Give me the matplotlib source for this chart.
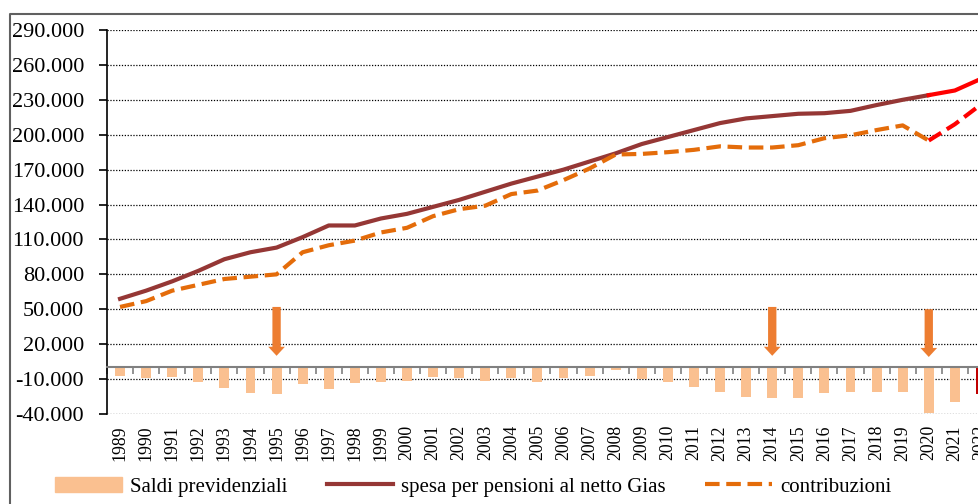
import matplotlib
matplotlib.use("Agg")
import matplotlib.pyplot as plt
from matplotlib.lines import Line2D
from matplotlib.patches import Patch
from matplotlib.ticker import FixedLocator, FuncFormatter
import numpy as np

plt.rcParams['font.family'] = ['Liberation Serif', 'DejaVu Serif']

# values in millions of euro
years = list(range(1989, 2023))
spesa = [59000, 66000, 74000, 83000, 93000, 99000, 103000, 112000, 122000, 122000,
         128000, 132000, 138000, 144000, 151000, 158000, 164000, 170000, 177000, 184000,
         192000, 198000, 204000, 210000, 214000, 216000, 218000, 218500, 220500, 225500,
         230000, 234000, 238000, 248000]
contribuzioni = [52000, 57000, 66000, 71000, 76000, 78000, 80000, 99000, 105000, 109000,
                 116000, 120000, 130000, 136000, 139000, 149000, 152000, 161000, 171000, 183000,
                 183500, 185000, 187000, 190000, 189000, 189000, 191000, 197000, 199500, 204000,
                 208000, 195000, 209000, 226000]
saldi = [-7200, -9400, -8600, -12900, -18000, -21700, -23100, -14600, -18900, -13400,
         -12300, -11700, -8300, -9400, -11700, -9200, -12300, -9200, -7200, -2300,
         -9700, -12900, -16600, -21200, -25400, -26600, -26600, -22300, -21200, -21200,
         -21200, -39400, -29500, -22600]
split_year = 2020  # from here on lines are drawn in red

arrow_years = [1995, 2014, 2020]
arrow_top = [52000, 52000, 50000]
arrow_tip = [10000, 10000, 9000]

yticks = list(range(-40000, 290001, 30000))

brown = '#953735'
orange = '#E46C0A'
bar_col = '#FAC090'

fig = plt.figure(figsize=(9.79, 5.04), dpi=100)
ax = fig.add_axes([0.1093, 0.1786, 0.906, 0.7619])

bar_colors = [bar_col] * (len(years) - 1) + ['#C00000']
ax.bar(years, saldi, width=0.38, color=bar_colors, zorder=2)

k = years.index(split_year)
ax.plot(years[:k + 1], spesa[:k + 1], color=brown, lw=3, zorder=3)
ax.plot(years[k:], spesa[k:], color='#FF0000', lw=3, zorder=3)
ax.plot(years[:k + 1], contribuzioni[:k + 1], color=orange, lw=3,
        linestyle=(0, (3.5, 1.6)), zorder=3)
ax.plot(years[k:], contribuzioni[k:], color='#FF0000', lw=3,
        linestyle=(0, (3.5, 1.6)), zorder=3)

for xa, yt, yb in zip(arrow_years, arrow_top, arrow_tip):
    ax.annotate('', xy=(xa, yb), xytext=(xa, yt),
                arrowprops=dict(width=6, headwidth=12, headlength=6.5,
                                shrink=0, color='#ED7D31', lw=0), zorder=4)

# zero line with category ticks (set before ticks: set_position resets them)
ax.spines['top'].set_position(('data', 0))
ax.spines['top'].set_color('#808080')
ax.spines['top'].set_linewidth(1.5)
ax.spines['bottom'].set_visible(False)
ax.spines['right'].set_visible(False)
ax.spines['left'].set_linewidth(1.2)

ax.set_xlim(1988.5, 2022.5)
ax.set_ylim(-40000, 290000)
ax.set_yticks(yticks)
ax.yaxis.set_major_formatter(FuncFormatter(lambda v, p: f"{v:,.0f}".replace(',', '.')))
ax.yaxis.grid(True, linestyle=(0, (1, 1.3)), color='black', lw=0.9)
ax.set_axisbelow(True)

ax.set_xticks(years)
ax.xaxis.set_minor_locator(FixedLocator([y + 0.5 for y in years[:-1]] + [years[0] - 0.5]))

ax.tick_params(axis='x', which='major', length=0, pad=8, top=False)
ax.tick_params(axis='x', which='minor', top=True, bottom=False, direction='in',
               length=5, width=1.2, color='#808080')
ax.tick_params(axis='y', length=6, width=1.2, pad=10.5, labelsize=16)
ax.set_xticklabels([str(y) for y in years], rotation=90, fontsize=12.8)

# outer frame
fig.add_artist(Line2D([10 / 979, 10 / 979, 1.0], [-0.1, 1 - 14 / 504, 1 - 14 / 504],
                      transform=fig.transFigure, color='#606060', lw=1.5))

handles = [Patch(color=bar_col),
           Line2D([], [], color=brown, lw=3),
           Line2D([], [], color=orange, lw=3, linestyle=(0, (3.5, 1.6)))]
labels = ['Saldi previdenziali', 'spesa per pensioni al netto Gias', 'contribuzioni']
fig.legend(handles, labels, loc='center left', bbox_to_anchor=(55 / 979, 0.034),
           ncol=3, frameon=False, fontsize=15, handlelength=3.2, handletextpad=0.38,
           columnspacing=1.9, borderpad=0, borderaxespad=0)

fig.savefig('out.png', dpi=100)
